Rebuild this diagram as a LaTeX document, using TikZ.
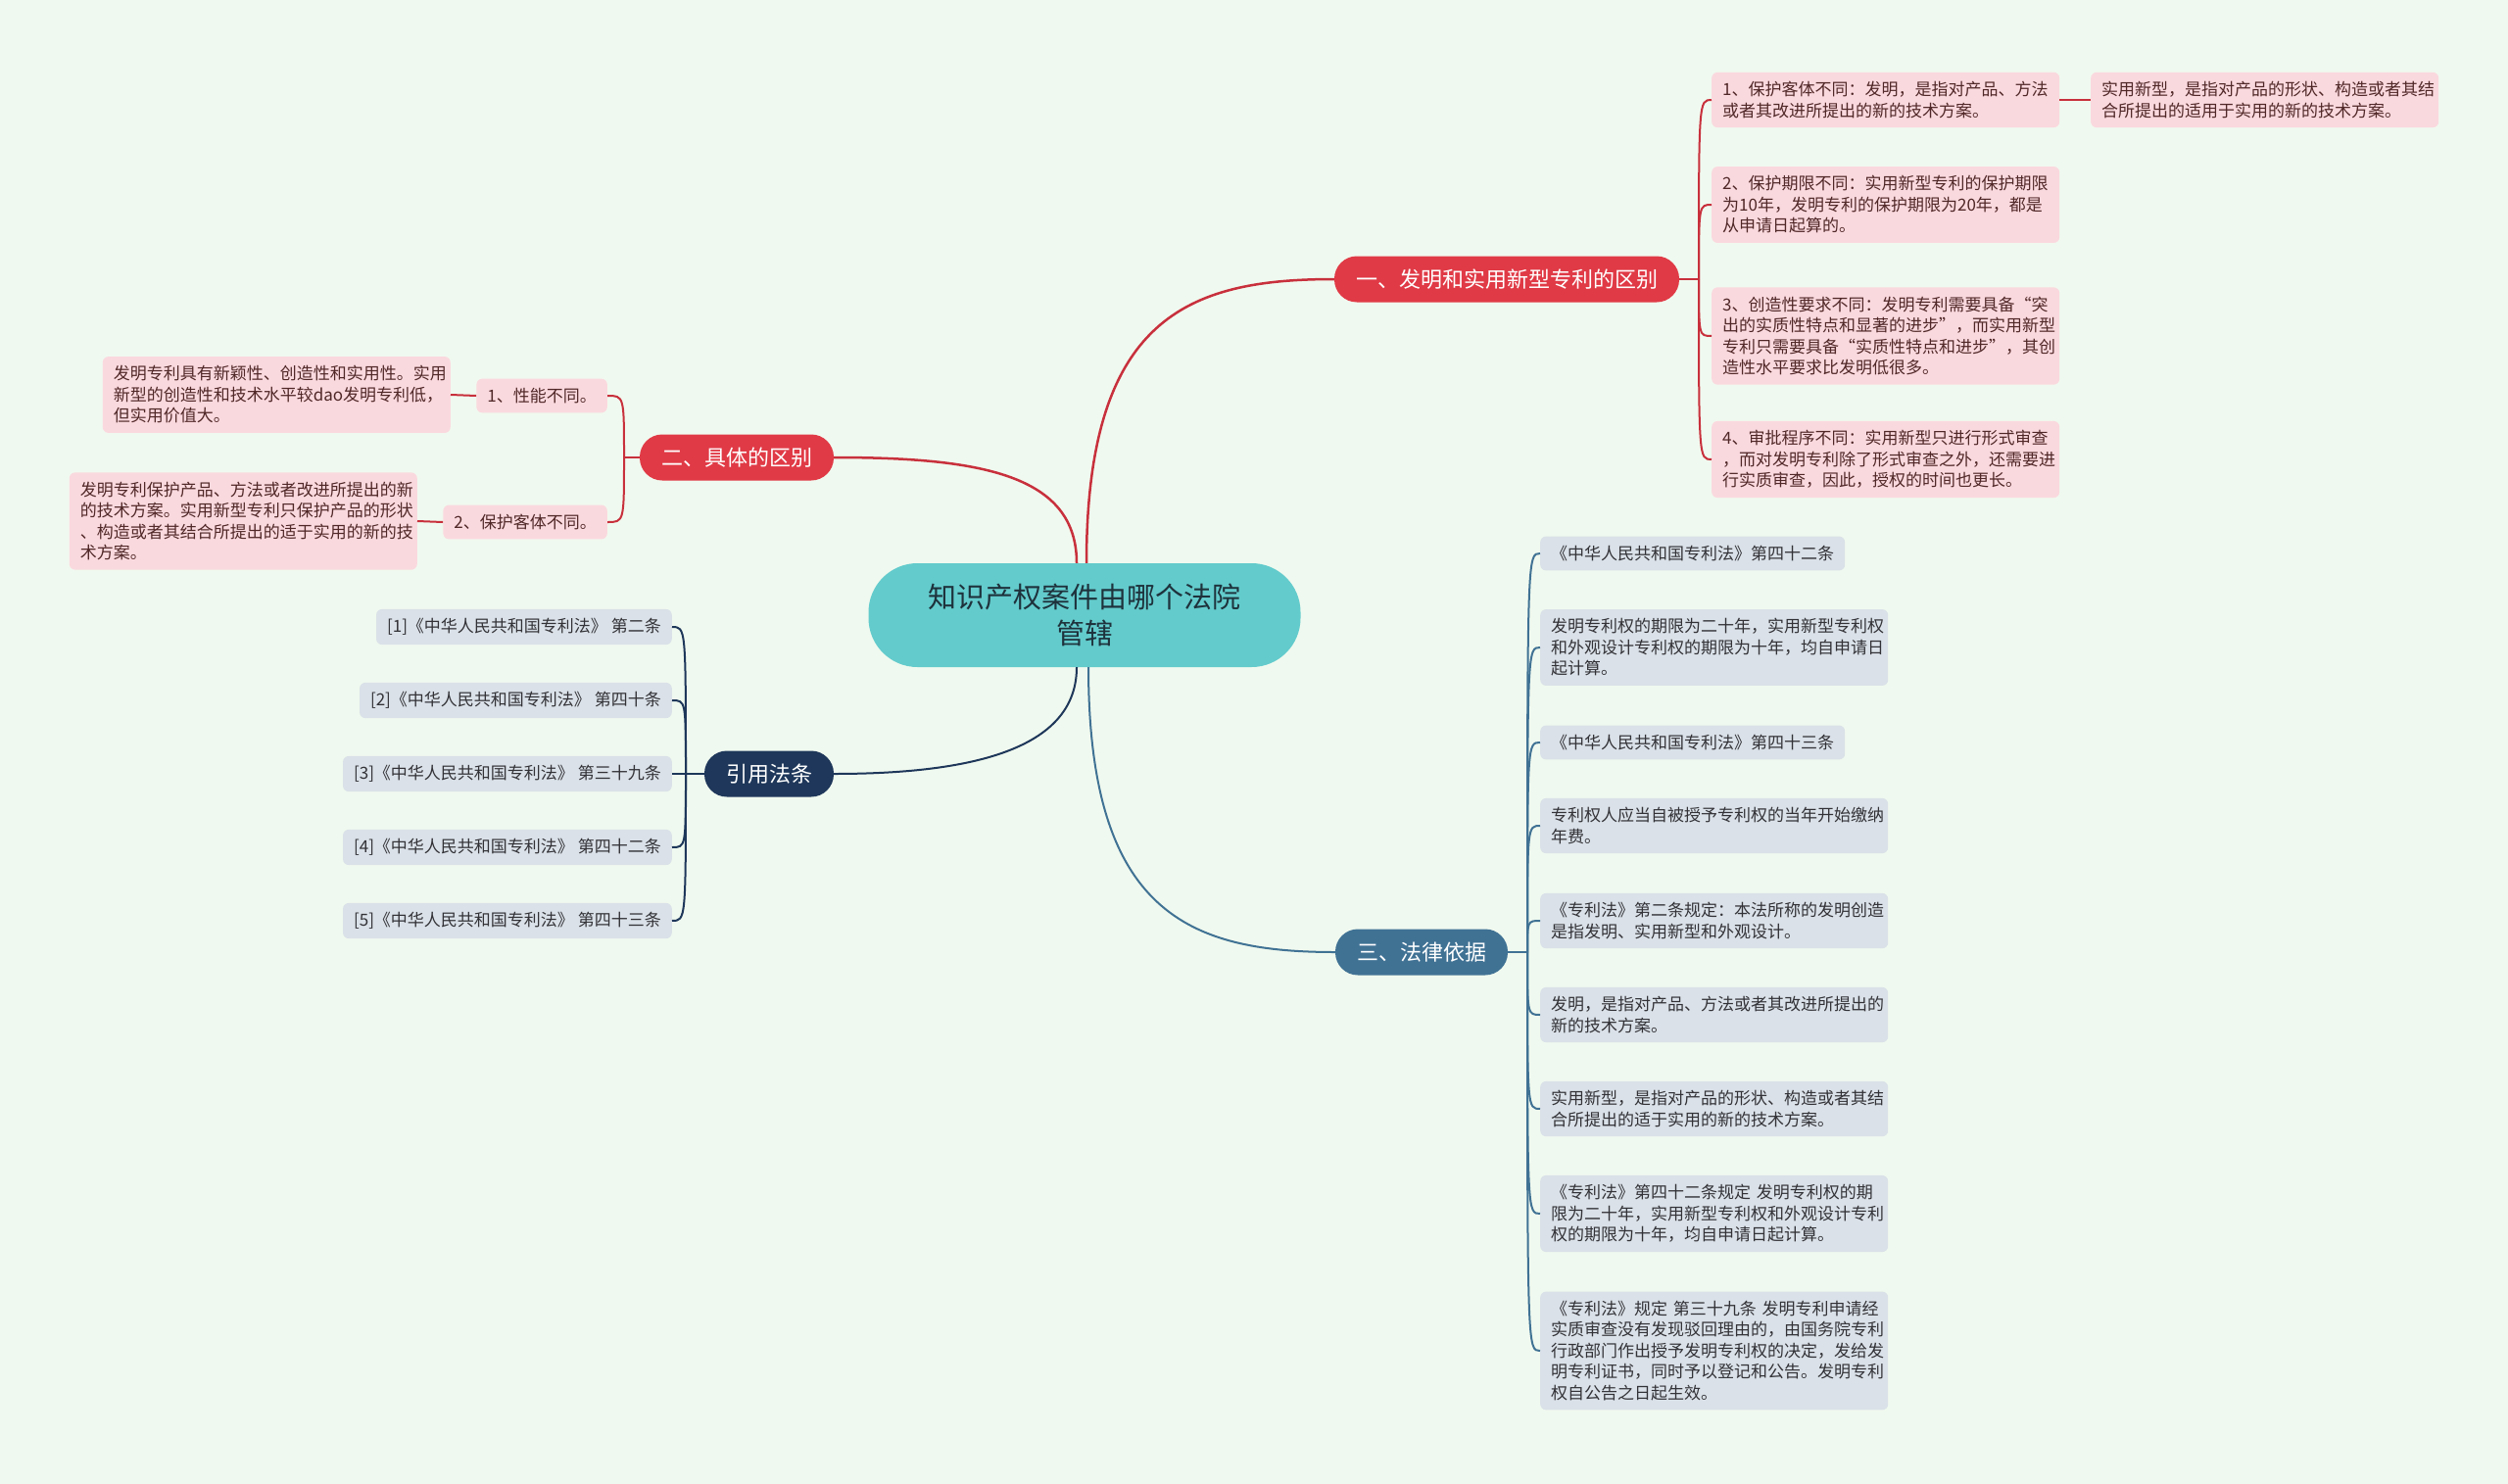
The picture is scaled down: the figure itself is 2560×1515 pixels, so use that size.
\documentclass[tikz,border=0pt]{standalone}
\usepackage{fontspec}
\setmainfont{Noto Sans CJK SC}

\definecolor{bgmint}{RGB}{240,249,239}
\definecolor{rootteal}{RGB}{99,203,204}
\definecolor{roottext}{RGB}{30,50,60}
\definecolor{topicred}{RGB}{224,58,70}
\definecolor{linered}{RGB}{200,48,60}
\definecolor{topicnavy}{RGB}{30,55,90}
\definecolor{topicblue}{RGB}{64,114,148}
\definecolor{leafpink}{RGB}{250,217,222}
\definecolor{leafred}{RGB}{80,40,40}
\definecolor{leafblue}{RGB}{218,225,232}
\definecolor{leafgray}{RGB}{50,50,55}

\begin{document}
\begin{tikzpicture}[x=1pt,y=-1pt,
    root/.style={fill=rootteal, text=roottext, rounded corners=50pt, minimum width=441pt,
        minimum height=106pt, align=center, font=\fontsize{29pt}{37.5pt}\selectfont},
    topic/.style={rounded corners=23pt, minimum height=47pt, inner xsep=22pt, text=white,
        font=\fontsize{22pt}{26pt}\selectfont},
    leaf/.style={rounded corners=6pt, inner xsep=11pt, inner ysep=9.5pt, align=left,
        font=\fontsize{17pt}{21.5pt}\selectfont},
    redleaf/.style={leaf, fill=leafpink, text=leafred},
    blueleaf/.style={leaf, fill=leafblue, text=leafgray},
    wrap/.style={text width=333pt},
    redline/.style={draw=linered, line width=2.5pt},
    redthin/.style={draw=linered, line width=2pt},
    navyline/.style={draw=topicnavy, line width=2pt},
    blueline/.style={draw=topicblue, line width=2pt}]

    % background
    \fill[bgmint] (0,0) rectangle (2560,1515);

    % root and main topics
    \node[root] (root) at (1107,628) {知识产权案件由哪个法院\\管辖};
    \node[topic, fill=topicred] (diff) at (1538,285) {一、发明和实用新型专利的区别};
    \node[topic, fill=topicred] (detail) at (752,467) {二、具体的区别};
    \node[topic, fill=topicnavy] (cite) at (785,790) {引用法条};
    \node[topic, fill=topicblue] (basis) at (1451,972) {三、法律依据};

    % root to topics
    \draw[redline] ([xshift=2pt]root.north) .. controls +(0,-250) and +(-150,0) .. (diff.west);
    \draw[redline] ([xshift=-8pt]root.north) .. controls +(0,-90) and +(150,0) .. (detail.east);
    \draw[navyline] ([xshift=-8pt]root.south) .. controls +(0,80) and +(150,0) .. (cite.east);
    \draw[blueline] ([xshift=4pt]root.south) .. controls +(0,250) and +(-150,0) .. (basis.west);

    % first topic leaves
    \node[redleaf, wrap, anchor=west] (c1) at (1747,102) {1、保护客体不同：发明，是指对产品、方法\\或者其改进所提出的新的技术方案。};
    \node[redleaf, wrap, anchor=west] (c1x) at (2134,102) {实用新型，是指对产品的形状、构造或者其结\\合所提出的适用于实用的新的技术方案。};
    \node[redleaf, wrap, anchor=west] (c2) at (1747,209) {2、保护期限不同：实用新型专利的保护期限\\为10年，发明专利的保护期限为20年，都是\\从申请日起算的。};
    \node[redleaf, wrap, anchor=west] (c3) at (1747,343) {3、创造性要求不同：发明专利需要具备“突\\出的实质性特点和显著的进步”，而实用新型\\专利只需要具备“实质性特点和进步”，其创\\造性水平要求比发明低很多。};
    \node[redleaf, wrap, anchor=west] (c4) at (1747,469) {4、审批程序不同：实用新型只进行形式审查\\，而对发明专利除了形式审查之外，还需要进\\行实质审查，因此，授权的时间也更长。};
    \coordinate (jdiff) at (1734,285);
    \draw[redthin] (diff.east) -- (jdiff);
    \foreach \n in {c1,c2,c3,c4}
        \draw[redthin] (jdiff) .. controls (jdiff |- \n.west) .. (\n.west);
    \draw[redthin] (c1.east) -- (c1x.west);

    % second topic leaves
    \node[redleaf, anchor=east] (d1) at (620,404) {1、性能不同。};
    \node[redleaf, anchor=east] (d2) at (620,533) {2、保护客体不同。};
    \node[redleaf, wrap, anchor=east] (d1x) at (460,403) {发明专利具有新颖性、创造性和实用性。实用\\新型的创造性和技术水平较dao发明专利低，\\但实用价值大。};
    \node[redleaf, wrap, anchor=east] (d2x) at (426,532) {发明专利保护产品、方法或者改进所提出的新\\的技术方案。实用新型专利只保护产品的形状\\、构造或者其结合所提出的适于实用的新的技\\术方案。};
    \coordinate (jdetail) at (637,467);
    \draw[redthin] (detail.west) -- (jdetail);
    \foreach \n in {d1,d2}
        \draw[redthin] (jdetail) .. controls (jdetail |- \n.east) .. (\n.east);
    \draw[redthin] (d1.west) -- (d1x.east);
    \draw[redthin] (d2.west) -- (d2x.east);

    % cited articles
    \node[blueleaf, anchor=east] (e1) at (686,640) {[1]《中华人民共和国专利法》 第二条};
    \node[blueleaf, anchor=east] (e2) at (686,715) {[2]《中华人民共和国专利法》 第四十条};
    \node[blueleaf, anchor=east] (e3) at (686,790) {[3]《中华人民共和国专利法》 第三十九条};
    \node[blueleaf, anchor=east] (e4) at (686,865) {[4]《中华人民共和国专利法》 第四十二条};
    \node[blueleaf, anchor=east] (e5) at (686,940) {[5]《中华人民共和国专利法》 第四十三条};
    \coordinate (jcite) at (700,790);
    \draw[navyline] (cite.west) -- (jcite);
    \foreach \n in {e1,e2,e3,e4,e5}
        \draw[navyline] (jcite) .. controls (jcite |- \n.east) .. (\n.east);

    % legal basis leaves
    \node[blueleaf, anchor=west] (f1) at (1572,565) {《中华人民共和国专利法》第四十二条};
    \node[blueleaf, wrap, anchor=west] (f2) at (1572,661) {发明专利权的期限为二十年，实用新型专利权\\和外观设计专利权的期限为十年，均自申请日\\起计算。};
    \node[blueleaf, anchor=west] (f3) at (1572,758) {《中华人民共和国专利法》第四十三条};
    \node[blueleaf, wrap, anchor=west] (f4) at (1572,843) {专利权人应当自被授予专利权的当年开始缴纳\\年费。};
    \node[blueleaf, wrap, anchor=west] (f5) at (1572,940) {《专利法》第二条规定：本法所称的发明创造\\是指发明、实用新型和外观设计。};
    \node[blueleaf, wrap, anchor=west] (f6) at (1572,1036) {发明，是指对产品、方法或者其改进所提出的\\新的技术方案。};
    \node[blueleaf, wrap, anchor=west] (f7) at (1572,1132) {实用新型，是指对产品的形状、构造或者其结\\合所提出的适于实用的新的技术方案。};
    \node[blueleaf, wrap, anchor=west] (f8) at (1572,1239) {《专利法》第四十二条规定~发明专利权的期\\限为二十年，实用新型专利权和外观设计专利\\权的期限为十年，均自申请日起计算。};
    \node[blueleaf, wrap, anchor=west] (f9) at (1572,1379) {《专利法》规定~第三十九条~发明专利申请经\\实质审查没有发现驳回理由的，由国务院专利\\行政部门作出授予发明专利权的决定，发给发\\明专利证书，同时予以登记和公告。发明专利\\权自公告之日起生效。};
    \coordinate (jbasis) at (1559,972);
    \draw[blueline] (basis.east) -- (jbasis);
    \foreach \n in {f1,f2,f3,f4,f5,f6,f7,f8,f9}
        \draw[blueline] (jbasis) .. controls (jbasis |- \n.west) .. (\n.west);
\end{tikzpicture}
\end{document}
